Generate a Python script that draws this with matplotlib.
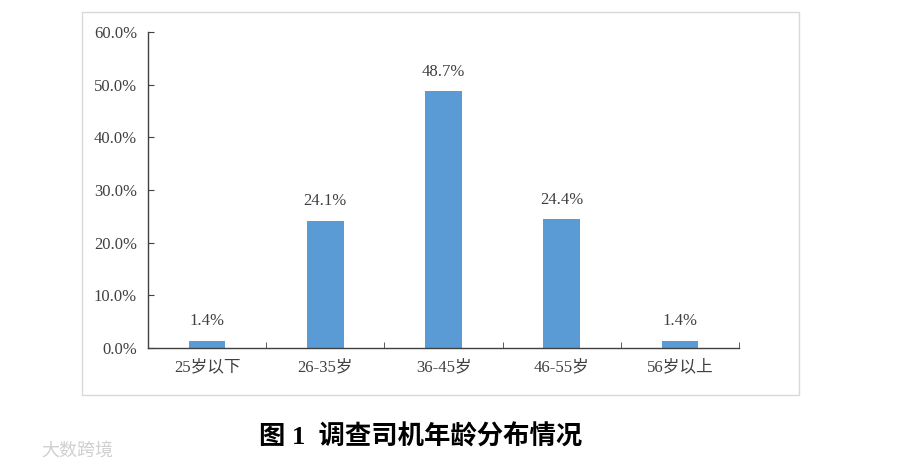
import matplotlib
matplotlib.use("Agg")
import matplotlib.pyplot as plt
from matplotlib.patches import Rectangle
import numpy as np

plt.rcParams['font.family'] = ['Liberation Serif', 'Noto Sans CJK SC']

# age groups and share of drivers (%)
categories = ['25岁以下', '26-35岁', '36-45岁', '46-55岁', '56岁以上']
values = [1.4, 24.1, 48.7, 24.4, 1.4]
yticks = [0, 10, 20, 30, 40, 50, 60]
title = '图 1  调查司机年龄分布情况'

fig = plt.figure(figsize=(9.12, 4.69), dpi=100)

# light frame around chart area
fig.patches.append(Rectangle((0.0899, 0.158), 0.786, 0.816, transform=fig.transFigure,
                             fill=False, edgecolor='#d9d9d9', linewidth=1.0))

ax = fig.add_axes([0.1623, 0.258, 0.648, 0.674])
x = np.arange(len(categories))
bars = ax.bar(x, values, width=0.31, color='#5b9bd5')

for b, v in zip(bars, values):
    ax.text(b.get_x() + b.get_width() / 2, v + 2.2, '%.1f%%' % v,
            ha='center', va='bottom', fontsize=12, color='#404040')

ax.set_xlim(-0.5, len(categories) - 0.5)
ax.set_ylim(0, 60)
ax.set_yticks(yticks)
ax.set_yticklabels(['%.1f%%' % t for t in yticks], fontsize=12, color='#404040')
ax.set_xticks(x)
ax.set_xticklabels(categories, fontsize=12, color='#404040')
ax.set_xticks(np.arange(-0.5, len(categories)), minor=True)
ax.tick_params(axis='x', which='major', length=0, pad=8)
ax.tick_params(axis='x', which='minor', direction='in', length=4, color='#404040')
ax.tick_params(axis='y', direction='in', length=4, color='#404040', pad=8)

for s in ['top', 'right']:
    ax.spines[s].set_visible(False)
for s in ['left', 'bottom']:
    ax.spines[s].set_color('#404040')
    ax.spines[s].set_linewidth(1.0)

fig.text(0.461, 0.068, title, ha='center', va='center', fontsize=19,
         fontweight='bold', color='black')

# watermark
fig.text(0.045, 0.04, '大数跨境', ha='left', va='center', fontsize=13,
         color='#d0d0d0', family=['Noto Sans CJK SC'])

fig.savefig('out.png', dpi=100)
